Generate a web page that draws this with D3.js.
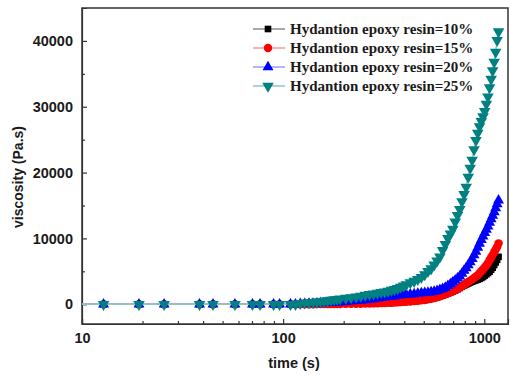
<!DOCTYPE html>
<html>
<head>
<meta charset="utf-8">
<script src="https://cdn.jsdelivr.net/npm/d3@7"></script>
<style>
  body { margin: 0; background: #fff; }
  svg { display: block; }
</style>
</head>
<body>
<svg id="chart" width="510" height="376"></svg>
<script>
// time (s), shared by all series
const times = [6.4, 12.8, 19.2, 25.6, 38.4, 44.8, 57.6, 70.4, 76.8, 89.6, 96, 108.8, 115.2,
  121.6, 128, 134.4, 140.8, 147.2, 153.6, 160, 166.4, 172.8, 179.2, 185.6, 192,
  204.8, 217.6, 230.4, 243.2, 256, 268.8, 281.6, 294.4, 307.2, 320, 332.8, 345.6, 358.4, 371.2, 384, 396.8, 409.6,
  428.8, 448, 467.2, 486.4, 505.6, 524.8, 544, 563.2, 582.4, 601.6, 620.8, 640, 659.2, 678.4, 697.6, 716.8,
  736, 755.2, 774.4, 793.6, 812.8, 832, 851.2, 870.4, 889.6, 908.8, 928, 947.2, 966.4, 985.6, 1004.8,
  1024, 1043.2, 1062.4, 1081.6, 1100.8, 1120, 1139.2, 1158.4, 1177.6];

// viscosity (Pa.s)
const resin10 = [0, 0, 0, 0, 0, 0, 0, 0, 0, 0, 0, 0, 0,
  0, 0, 10, 10, 20, 20, 30, 30, 40, 40, 50, 50,
  60, 70, 80, 90, 100, 110, 120, 140, 160, 180, 200, 230, 260, 290, 320, 350, 380,
  420, 470, 520, 580, 650, 730, 830, 940, 1060, 1200, 1340, 1490, 1630, 1780, 1930, 2090,
  2280, 2470, 2660, 2850, 3000, 3150, 3300, 3430, 3550, 3650, 3750, 3860, 4000, 4150, 4350,
  4550, 4750, 4950, 5250, 5550, 5950, 6350, 6750, 7200];
const resin15 = [0, 0, 0, 0, 0, 0, 0, 0, 0, 0, 0, 0, 0,
  0, 0, 10, 10, 20, 20, 30, 30, 40, 40, 50, 50,
  60, 70, 80, 90, 100, 110, 130, 150, 170, 190, 210, 240, 270, 300, 330, 360, 390,
  430, 480, 530, 590, 660, 740, 840, 950, 1080, 1220, 1370, 1530, 1670, 1820, 1980, 2150,
  2350, 2550, 2750, 2970, 3190, 3380, 3580, 3780, 4000, 4200, 4420, 4700, 5000, 5300, 5600,
  5900, 6250, 6700, 7100, 7500, 7900, 8300, 8700, 9250];
const resin20 = [0, 0, 0, 0, 0, 0, 0, 0, 0, 0, 0, 0, 0,
  50, 80, 100, 120, 140, 160, 180, 200, 230, 260, 290, 320,
  380, 440, 500, 570, 640, 720, 800, 880, 960, 1040, 1110, 1180, 1250, 1320, 1400, 1430, 1460,
  1500, 1550, 1620, 1680, 1730, 1790, 1850, 1920, 2050, 2180, 2350, 2550, 2780, 3050, 3350, 3650,
  3950, 4250, 4650, 5100, 5500, 5950, 6400, 6900, 7450, 8000, 8600, 9200, 9800, 10300, 10850,
  11350, 11850, 12400, 12950, 13450, 14000, 14600, 15200, 15800];
const resin25 = [0, 0, 0, 0, 0, 0, 0, 0, 0, 0, 0, 0, 0,
  150, 200, 250, 300, 350, 400, 470, 540, 620, 700, 760, 820,
  920, 1020, 1120, 1250, 1400, 1500, 1600, 1700, 1800, 1900, 2000, 2150, 2250, 2400, 2600, 2800, 3000,
  3300, 3500, 3800, 4100, 4500, 5000, 5400, 6000, 6600, 7200, 8200, 9100, 10000, 10700, 11400, 12500,
  13500, 14400, 15600, 16700, 17800, 19300, 20700, 21900, 23500, 24900, 26000, 27000, 27800, 28500, 29300,
  30400, 31500, 32900, 34200, 35500, 36800, 38300, 40100, 41400];

const seriesNames = ['Hydantion epoxy resin=10%', 'Hydantion epoxy resin=15%',
  'Hydantion epoxy resin=20%', 'Hydantion epoxy resin=25%'];
const yTicks = [0, 10000, 20000, 30000, 40000];
const xTicks = [10, 100, 1000];

const series = [
  { name: seriesNames[0], values: resin10, color: '#000000', line: '#8c8c8c', symbol: d3.symbolSquare, size: 44, rot: 0 },
  { name: seriesNames[1], values: resin15, color: '#ff0000', line: '#f59a9a', symbol: d3.symbolCircle, size: 56, rot: 0 },
  { name: seriesNames[2], values: resin20, color: '#0000ff', line: '#9a9aff', symbol: d3.symbolTriangle, size: 52, rot: 0 },
  { name: seriesNames[3], values: resin25, color: '#008080', line: '#8fc4c4', symbol: d3.symbolTriangle, size: 58, rot: 180 }
];

const svg = d3.select('#chart');
const m = { left: 82, right: 2, top: 8, bottom: 52 };
const W = 510, H = 376;

const x = d3.scaleLog().domain([10, 1312]).range([m.left, W - m.right]);
const y = d3.scaleLinear().domain([-3000, 45000]).range([H - m.bottom, m.top]);

svg.append('defs').append('clipPath').attr('id', 'plotClip')
  .append('rect')
  .attr('x', m.left).attr('y', m.top)
  .attr('width', W - m.right - m.left).attr('height', H - m.bottom - m.top);

// axes (ticks inward)
const axisColor = '#333';
const xAxis = svg.append('g').attr('transform', `translate(0,${H - m.bottom})`)
  .call(d3.axisBottom(x).tickValues(xTicks).tickSize(-5).tickFormat(d3.format('d')));
const xMinor = d3.range(2, 10).map(d => d * 10).concat(d3.range(2, 10).map(d => d * 100)).filter(d => d < 1312);
svg.append('g').attr('transform', `translate(0,${H - m.bottom})`)
  .call(d3.axisBottom(x).tickValues(xMinor).tickSize(-3).tickFormat(''))
  .call(g => g.select('.domain').remove());

const yAxis = svg.append('g').attr('transform', `translate(${m.left},0)`)
  .call(d3.axisLeft(y).tickValues(yTicks).tickSize(-5).tickFormat(d3.format('d')));
svg.append('g').attr('transform', `translate(${m.left},0)`)
  .call(d3.axisLeft(y).tickValues([5000, 15000, 25000, 35000]).tickSize(-3).tickFormat(''))
  .call(g => g.select('.domain').remove());

svg.selectAll('.tick line, .domain').attr('stroke', axisColor).attr('stroke-width', 1.2);
xAxis.selectAll('.tick text').attr('dy', 0).attr('y', 19);
yAxis.selectAll('.tick text').attr('x', -9);
svg.selectAll('.tick text')
  .attr('font-family', 'Liberation Sans, Arial, sans-serif')
  .attr('font-weight', 'bold').attr('font-size', 14.5).attr('fill', '#1a1a1a');

// frame
svg.append('rect')
  .attr('x', m.left).attr('y', m.top)
  .attr('width', W - m.right - m.left).attr('height', H - m.bottom - m.top)
  .attr('fill', 'none').attr('stroke', axisColor).attr('stroke-width', 1.5);

// titles
svg.append('text')
  .attr('x', 294).attr('y', 368).attr('text-anchor', 'middle')
  .attr('font-family', 'Liberation Sans, Arial, sans-serif').attr('font-weight', 'bold')
  .attr('font-size', 14.5).attr('fill', '#1a1a1a')
  .text('time (s)');
svg.append('text')
  .attr('transform', 'translate(23,177) rotate(-90)').attr('text-anchor', 'middle')
  .attr('font-family', 'Liberation Sans, Arial, sans-serif').attr('font-weight', 'bold')
  .attr('font-size', 14).attr('fill', '#1a1a1a')
  .text('viscosity (Pa.s)');

// data
const plot = svg.append('g').attr('clip-path', 'url(#plotClip)');
const line = d3.line().x((d, i) => x(times[i])).y(d => y(d));

series.forEach(s => {
  const g = plot.append('g');
  g.append('path').datum(s.values)
    .attr('d', line).attr('fill', 'none')
    .attr('stroke', s.line).attr('stroke-width', 1.5);
  g.selectAll('path.pt').data(s.values).join('path')
    .attr('class', 'pt')
    .attr('d', d3.symbol().type(s.symbol).size(s.size))
    .attr('transform', (d, i) => `translate(${x(times[i])},${y(d)}) rotate(${s.rot})`)
    .attr('fill', s.color);
});

// legend
const legend = svg.append('g');
series.forEach((s, i) => {
  const cy = 29 + i * 19;
  legend.append('line')
    .attr('x1', 253).attr('x2', 285).attr('y1', cy).attr('y2', cy)
    .attr('stroke', s.line).attr('stroke-width', 1.5);
  legend.append('path')
    .attr('d', d3.symbol().type(s.symbol).size(s.size))
    .attr('transform', `translate(268,${cy}) rotate(${s.rot})`)
    .attr('fill', s.color);
  legend.append('text')
    .attr('x', 290).attr('y', cy + 5)
    .attr('font-family', 'Liberation Serif, Times New Roman, serif').attr('font-weight', 'bold')
    .attr('font-size', 15).attr('fill', '#1a1a1a')
    .text(s.name);
});
</script>
</body>
</html>
